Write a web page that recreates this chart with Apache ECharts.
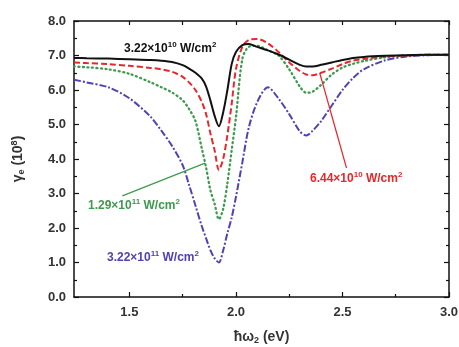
<!DOCTYPE html>
<html><head><meta charset="utf-8">
<script src="https://cdn.jsdelivr.net/npm/echarts@6/dist/echarts.min.js"></script>
<style>html,body{margin:0;padding:0;background:#fff}#c{width:459px;height:347px}</style>
</head><body><div id="c"></div>
<script>
// photon energy (eV)
const energy = [1.24,1.3,1.4,1.5,1.6,1.65,1.7,1.75,1.78,1.81,1.84,1.86,1.88,1.90,1.92,1.94,1.96,1.98,2.00,2.03,2.06,2.10,2.15,2.20,2.25,2.30,2.33,2.36,2.40,2.45,2.50,2.55,2.60,2.70,2.80,2.90,3.00];
// gamma_e (10^8) for each intensity
const y322e10 = [6.93,6.92,6.91,6.89,6.87,6.85,6.81,6.72,6.62,6.5,6.33,6.1,5.7,5.25,4.95,5.35,6.0,6.75,7.1,7.3,7.33,7.25,7.15,7.03,6.88,6.73,6.68,6.68,6.73,6.8,6.87,6.93,6.96,6.99,7.01,7.02,7.02];
const y644e10 = [6.8,6.78,6.75,6.7,6.64,6.6,6.53,6.38,6.22,6.0,5.65,5.3,4.75,4.25,3.68,4.0,4.7,5.6,6.6,7.25,7.45,7.48,7.35,7.1,6.8,6.55,6.45,6.43,6.5,6.62,6.75,6.85,6.9,6.97,7.0,7.02,7.02];
const y129e11 = [6.68,6.66,6.6,6.47,6.22,6.08,5.93,5.7,5.45,5.1,4.3,3.75,3.1,2.7,2.25,2.55,3.3,4.25,5.2,6.9,7.25,7.28,7.15,7.0,6.6,6.1,5.92,5.95,6.15,6.45,6.65,6.76,6.84,6.95,7.0,7.02,7.02];
const y322e11 = [6.3,6.22,6.08,5.76,5.22,4.82,4.38,3.82,3.25,2.65,2.05,1.7,1.36,1.12,1.0,1.35,1.85,2.3,2.9,3.9,4.9,5.65,6.08,5.75,5.3,4.8,4.68,4.82,5.1,5.55,6.0,6.35,6.6,6.86,6.97,7.01,7.02];
const xMajor = [1.5,2.0,2.5,3.0];
const xMinor = [1.75,2.25,2.75];
const seriesNames = ['3.22×10^10','6.44×10^10','1.29×10^11','3.22×10^11'];

const chart = echarts.init(document.getElementById('c'), null, {renderer:'canvas'});
const pair = ys => energy.map((x,i)=>[x, ys[i]]);
const FF = 'Liberation Sans, Arial';
const lblFont = {fontFamily:FF, fontWeight:'bold', fontSize:13, color:'#333'};
const axisLine = {show:true, lineStyle:{color:'#111', width:1.5}};
function ann(a, b, color, left, top){
  return {type:'text', left:left, top:top, z:100, style:{
    text:'{n|'+a+'}{s|'+b+'}{n| W/cm}{s|2}',
    rich:{
      s:{fontSize:8, verticalAlign:'top', padding:[0,0,7,0], fontWeight:'bold', fontFamily:FF, fill:color},
      n:{fontSize:12, fontWeight:'bold', fill:color, fontFamily:FF}
    }
  }};
}
const option = {
  animation:false,
  backgroundColor:'#fff',
  grid:{left:74, right:10, top:21, bottom:50, show:false, containLabel:false, outerBoundsMode:'none'},
  xAxis:[
    {type:'value', min:1.24, max:3, position:'bottom', axisLine:axisLine,
     axisTick:{show:true, inside:true, length:5, customValues:xMajor, lineStyle:{color:'#111', width:1.2}},
     axisLabel:Object.assign({show:true, customValues:xMajor, margin:9, formatter:v=>v.toFixed(1)}, lblFont),
     splitLine:{show:false},
     name:'ħω{s|2} (eV)', nameLocation:'middle', nameGap:33,
     nameTextStyle:{fontFamily:FF, fontWeight:'bold', fontSize:14, color:'#333',
       rich:{s:{fontSize:9, padding:[6,0,0,0], fontWeight:'bold', color:'#333', fontFamily:FF}}}},
    {type:'value', min:1.24, max:3, position:'bottom', axisLine:{show:false},
     axisTick:{show:true, inside:true, length:3, customValues:xMinor, lineStyle:{color:'#111', width:1.2}},
     axisLabel:{show:false}, splitLine:{show:false}},
    {type:'value', min:1.24, max:3, position:'top', axisLine:axisLine,
     axisTick:{show:true, inside:true, length:4, customValues:xMajor.concat(xMinor), lineStyle:{color:'#111', width:1.2}},
     axisLabel:{show:false}, splitLine:{show:false}}
  ],
  yAxis:[
    {type:'value', min:0, max:8, interval:1, position:'left', axisLine:axisLine,
     axisTick:{show:true, inside:true, length:5, lineStyle:{color:'#111', width:1.2}},
     minorTick:{show:true, splitNumber:2, length:3, lineStyle:{color:'#111', width:1.2}},
     axisLabel:Object.assign({margin:8, formatter:v=>v.toFixed(1)}, lblFont),
     splitLine:{show:false},
     name:'γ{s|e} (10{p|8})', nameLocation:'middle', nameGap:48, nameRotate:90,
     nameTextStyle:{fontFamily:FF, fontWeight:'bold', fontSize:14, color:'#333',
       rich:{s:{fontSize:9, padding:[7,0,0,0], fontWeight:'bold', color:'#333', fontFamily:FF},
             p:{fontSize:9, padding:[0,0,7,0], fontWeight:'bold', color:'#333', fontFamily:FF}}}},
    {type:'value', min:0, max:8, interval:1, position:'right', axisLine:axisLine,
     axisTick:{show:true, inside:true, length:5, lineStyle:{color:'#111', width:1.2}},
     minorTick:{show:true, splitNumber:2, length:3, lineStyle:{color:'#111', width:1.2}},
     axisLabel:{show:false}, splitLine:{show:false}}
  ],
  series:[
    {name:seriesNames[3], type:'line', data:pair(y322e11), smooth:0.3, showSymbol:false, symbol:'none',
     lineStyle:{color:'#5340b3', width:2, type:[7,2,2,2]}},
    {name:seriesNames[2], type:'line', data:pair(y129e11), smooth:0.3, showSymbol:false, symbol:'none',
     lineStyle:{color:'#3d9a4e', width:2.3, type:[1,3.5], cap:'round'},
     markLine:{symbol:'none', silent:true, label:{show:false},
       lineStyle:{color:'#3d9a4e', width:1.2, type:'solid'},
       data:[[{coord:[1.467,2.93]},{coord:[1.855,3.88]}]]}},
    {name:seriesNames[1], type:'line', data:pair(y644e10), smooth:0.3, showSymbol:false, symbol:'none',
     lineStyle:{color:'#e8262b', width:2, type:[6,3]},
     markLine:{symbol:'none', silent:true, label:{show:false},
       lineStyle:{color:'#e8262b', width:1.2, type:'solid'},
       data:[[{coord:[2.393,6.50]},{coord:[2.519,3.74]}]]}},
    {name:seriesNames[0], type:'line', data:pair(y322e10), smooth:0.3, showSymbol:false, symbol:'none',
     lineStyle:{color:'#111', width:2}}
  ],
  graphic:[
    ann('3.22×10','10', '#111', 124, 41),
    ann('6.44×10','10', '#e8262b', 310, 171),
    ann('1.29×10','11', '#3d9a4e', 88, 198),
    ann('3.22×10','11', '#5340b3', 107, 250)
  ]
};
chart.setOption(option);
</script></body></html>
